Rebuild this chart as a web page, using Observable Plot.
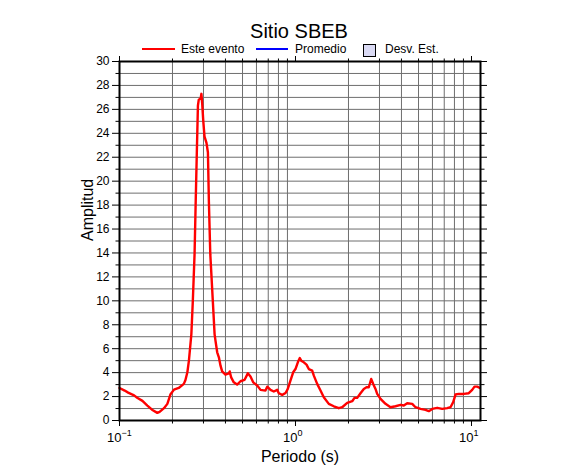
<!DOCTYPE html>
<html>
<head>
<meta charset="utf-8">
<script src="https://cdn.jsdelivr.net/npm/d3@7"></script>
<script src="https://cdn.jsdelivr.net/npm/@observablehq/plot@0.6"></script>
<style>
  body { margin: 0; background: #fff; font-family: "Liberation Sans", Arial, Helvetica, sans-serif; }
  #wrap { position: relative; width: 586px; height: 475px; }
  #chart { position: absolute; left: 0; top: 0; }
  .ov { position: absolute; line-height: 1; white-space: nowrap; color: #000; }
</style>
</head>
<body>
<div id="wrap">
  <div id="chart"></div>
  <div class="ov" style="left:0;width:598px;top:23px;height:16px;line-height:16px;text-align:center;font-size:20px;">Sitio SBEB</div>
  <div class="ov" style="left:142px;top:48px;width:33px;height:2px;background:#ff0000;"></div>
  <div class="ov" style="left:181px;top:43.3px;font-size:12px;">Este evento</div>
  <div class="ov" style="left:256px;top:48px;width:32px;height:2px;background:#0000ff;"></div>
  <div class="ov" style="left:295px;top:43.3px;font-size:12px;">Promedio</div>
  <div class="ov" style="left:363px;top:44px;width:11px;height:11px;background:#dadaf4;border:1px solid #000;"></div>
  <div class="ov" style="left:385px;top:43.3px;font-size:12px;">Desv. Est.</div>
</div>
<script>
// Period (s) and amplitude
const periods = [
  0.100, 0.107, 0.112, 0.121, 0.126, 0.135, 0.144, 0.153, 0.164, 0.169,
  0.179, 0.187, 0.195, 0.204, 0.217, 0.232, 0.237, 0.243, 0.248, 0.256,
  0.261, 0.267, 0.271, 0.275, 0.279, 0.282, 0.289, 0.292, 0.295, 0.299,
  0.304, 0.312, 0.318, 0.322, 0.328, 0.339, 0.347, 0.351, 0.359, 0.367,
  0.375, 0.383, 0.400, 0.418, 0.423, 0.431, 0.446, 0.466, 0.487, 0.513,
  0.536, 0.555, 0.575, 0.606, 0.633, 0.675, 0.691, 0.721, 0.753, 0.787,
  0.804, 0.840, 0.878, 0.904, 0.937, 0.970, 1.000, 1.031, 1.058, 1.077,
  1.115, 1.155, 1.190, 1.244, 1.271, 1.328, 1.387, 1.448, 1.546, 1.651,
  1.762, 1.842, 1.967, 2.100, 2.164, 2.242, 2.341, 2.444, 2.532, 2.609,
  2.692, 2.764, 2.848, 2.912, 3.041, 3.247, 3.466, 3.700, 3.951, 4.124,
  4.312, 4.604, 4.807, 5.131, 5.478, 5.720, 5.980, 6.385, 6.816, 7.277,
  7.598, 7.871, 8.111, 8.469, 9.042, 9.654, 10.09, 10.40, 10.78, 11.15
];
const amplitudes = [
  2.72, 2.50, 2.33, 2.10, 1.90, 1.64, 1.25, 0.90, 0.64, 0.72,
  1.03, 1.39, 2.20, 2.58, 2.72, 3.06, 3.39, 4.03, 5.00, 7.20,
  10.0, 13.9, 18.3, 22.4, 26.3, 26.8, 26.9, 27.3, 26.5, 25.1,
  23.75, 23.2, 22.4, 18.3, 13.9, 10.0, 7.20, 6.67, 5.70, 5.28,
  4.58, 4.10, 3.83, 3.94, 4.10, 3.60, 3.19, 3.00, 3.28, 3.39,
  3.94, 3.67, 3.19, 2.92, 2.56, 2.50, 2.83, 2.56, 2.42, 2.56,
  2.28, 2.14, 2.30, 2.64, 3.36, 4.03, 4.30, 4.86, 5.22, 5.00,
  4.86, 4.67, 4.30, 4.17, 3.75, 3.06, 2.50, 1.94, 1.39, 1.19,
  1.03, 1.11, 1.47, 1.61, 1.89, 1.89, 2.28, 2.64, 2.78, 2.78,
  3.47, 3.06, 2.64, 2.22, 1.81, 1.39, 1.11, 1.19, 1.31, 1.25,
  1.44, 1.39, 1.11, 0.97, 0.89, 0.78, 0.97, 1.06, 0.97, 1.03,
  1.11, 1.53, 2.17, 2.22, 2.22, 2.28, 2.56, 2.83, 2.83, 2.72
];

// Axis ticks and labels
const xDomain = [0.1, 11.25];
const yDomain = [0, 30];
const xMajor = [0.1, 1, 10];
const xMinor = [0.2, 0.3, 0.4, 0.5, 0.6, 0.7, 0.8, 0.9, 2, 3, 4, 5, 6, 7, 8, 9];
const xExponents = ["\u22121", "0", "1"];
const yMajor = [0, 2, 4, 6, 8, 10, 12, 14, 16, 18, 20, 22, 24, 26, 28, 30];
const yMinor = [1, 3, 5, 7, 9, 11, 13, 15, 17, 19, 21, 23, 25, 27, 29];
const yGrid = [1, 2, 3, 4, 5, 6, 7, 8, 9, 10, 11, 12, 13, 14, 15, 16, 17, 18, 19, 20, 21, 22, 23, 24, 25, 26, 27, 28, 29];

const data = periods.map((p, i) => ({ p, a: amplitudes[i] }));
const xLab = xMajor.map((v, i) => ({ v, e: xExponents[i] }));
const font = "Liberation Sans, Arial, Helvetica, sans-serif";
const blank = () => "";

const chart = Plot.plot({
  width: 586,
  height: 475,
  marginLeft: 119,
  marginRight: 106,
  marginTop: 61,
  marginBottom: 55,
  style: { fontFamily: font, fontSize: "12px", color: "#000", background: "transparent" },
  x: { type: "log", domain: xDomain, axis: null },
  y: { domain: yDomain, axis: null },
  marks: [
    Plot.ruleX(xMinor, { stroke: "#6e6e6e", strokeWidth: 1 }),
    Plot.ruleY(yGrid, { stroke: "#6e6e6e", strokeWidth: 1 }),
    Plot.line(data, { x: "p", y: "a", stroke: "#ff0000", strokeWidth: 2.4, strokeLinejoin: "round" }),
    Plot.frame({ stroke: "#000", strokeWidth: 2 }),
    // left
    Plot.axisY({ anchor: "left", label: null, ticks: yMajor, tickSize: 7, tickPadding: 3, fontSize: 12, tickFormat: d => String(d) }),
    Plot.axisY({ anchor: "left", label: null, ticks: yMinor, tickSize: 3.5, tickFormat: blank }),
    // right
    Plot.axisY({ anchor: "right", label: null, ticks: yMajor, tickSize: 6, tickFormat: blank }),
    Plot.axisY({ anchor: "right", label: null, ticks: yMinor, tickSize: 3.5, tickFormat: blank }),
    // bottom
    Plot.axisX({ anchor: "bottom", label: null, ticks: xMajor, tickSize: 6, tickFormat: blank }),
    Plot.axisX({ anchor: "bottom", label: null, ticks: xMinor, tickSize: 3.5, tickFormat: blank }),
    // top
    Plot.axisX({ anchor: "top", label: null, ticks: xMajor, tickSize: 6, tickFormat: blank }),
    Plot.axisX({ anchor: "top", label: null, ticks: xMinor, tickSize: 3.5, tickFormat: blank }),
    // x tick labels 10^n
    Plot.text(xLab, { x: "v", frameAnchor: "bottom", text: () => "10", textAnchor: "end", lineAnchor: "middle", dx: 2, dy: 17, fontSize: 13 }),
    Plot.text(xLab, { x: "v", frameAnchor: "bottom", text: "e", textAnchor: "start", lineAnchor: "middle", dx: 2, dy: 13, fontSize: 9 }),
    // axis titles
    Plot.text(["Periodo (s)"], { frameAnchor: "bottom", lineAnchor: "middle", dy: 36, fontSize: 16 }),
    Plot.text(["Amplitud"], { frameAnchor: "left", rotate: -90, lineAnchor: "middle", dx: -32, fontSize: 16 })
  ]
});
document.getElementById("chart").appendChild(chart);
</script>
</body>
</html>
